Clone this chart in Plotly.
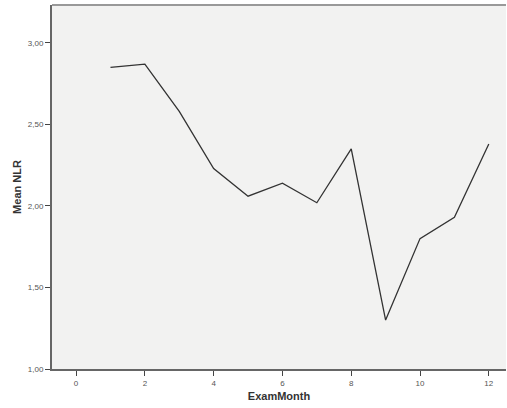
import plotly.graph_objects as go

months = [1, 2, 3, 4, 5, 6, 7, 8, 9, 10, 11, 12]
mean_nlr = [2.85, 2.87, 2.58, 2.23, 2.06, 2.14, 2.02, 2.35, 1.30, 1.80, 1.93, 2.38]
x_ticks = [0, 2, 4, 6, 8, 10, 12]
y_ticks = [1.0, 1.5, 2.0, 2.5, 3.0]
y_tick_labels = ["1,00", "1,50", "2,00", "2,50", "3,00"]

fig = go.Figure()
fig.add_trace(go.Scatter(x=months, y=mean_nlr, mode="lines",
                         line=dict(color="#333333", width=1.3), showlegend=False))

fig.update_layout(
    width=507, height=408,
    margin=dict(l=52, r=1, t=5, b=39),
    paper_bgcolor="white", plot_bgcolor="#F2F2F1",
    font=dict(family="Liberation Sans, Arial, sans-serif", color="#333333"),
    xaxis=dict(range=[-0.7, 12.5], tickvals=x_ticks, ticks="outside", ticklen=5,
               tickcolor="#444444", showgrid=False, zeroline=False,
               showline=True, linecolor="#666666", linewidth=2,
               tickfont=dict(size=8, color="#555555"),
               title=dict(text="<b>ExamMonth</b>", font=dict(size=11, color="#333333"), standoff=6)),
    yaxis=dict(range=[1.0, 3.233], tickvals=y_ticks, ticktext=y_tick_labels,
               ticks="outside", ticklen=5, tickcolor="#444444",
               showgrid=False, zeroline=False,
               showline=True, linecolor="#666666", linewidth=2,
               tickfont=dict(size=8, color="#555555"),
               title=dict(text="<b>Mean NLR</b>", font=dict(size=11, color="#333333"), standoff=4)),
)
fig.add_shape(type="line", xref="paper", yref="paper", x0=0, x1=1, y0=1, y1=1,
              layer="above", line=dict(color="#999999", width=2))

fig.write_html("out.html", config={"displayModeBar": False},
               post_script="document.body.style.margin='0';document.body.style.overflow='hidden';")
